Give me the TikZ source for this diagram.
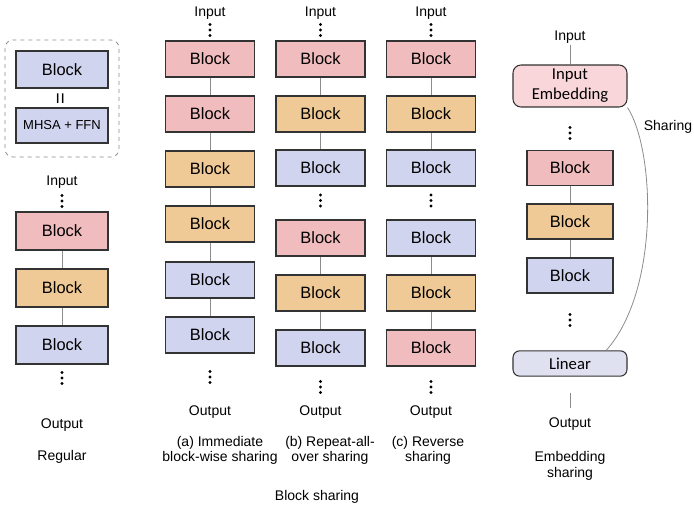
\documentclass[tikz,border=0pt]{standalone}
\usepackage{fontspec}
\setmainfont{Liberation Sans}
\newfontfamily\embfont{Carlito}
\usepackage{tikz}

\definecolor{blkpink}{RGB}{240,188,189}
\definecolor{blkorange}{RGB}{240,202,150}
\definecolor{blkblue}{RGB}{209,212,238}
\definecolor{embpink}{RGB}{248,214,217}
\definecolor{linblue}{RGB}{223,225,240}

\tikzset{
  blk/.style={draw=black!80, line width=0.8pt, inner sep=0pt, minimum width=66.75pt, minimum height=27pt, font=\fontsize{12.3}{14}\selectfont},
  pk/.style={blk, fill=blkpink},
  og/.style={blk, fill=blkorange},
  bl/.style={blk, fill=blkblue},
  wide/.style={minimum width=69pt, minimum height=28.5pt},
  slim/.style={minimum width=64.5pt, minimum height=26.25pt},
  lbl/.style={inner sep=0.75pt, font=\fontsize{10.5}{11.5}\selectfont, align=center},
  link/.style={draw=black!45, line width=0.75pt},
  dots/.pic={\fill (0,-5.5) circle (1.15pt) (0,0) circle (1.15pt) (0,5.5) circle (1.15pt);}
}

\begin{document}
\begin{tikzpicture}[x=0.75pt,y=0.75pt,yscale=-1,xscale=1]
\useasboundingbox (0,0) rectangle (694,506);

%Legend box
\draw [black!45, dashed, rounded corners=6pt, line width=0.6pt] (5,40) rectangle (119,157);
\node [bl, wide, minimum height=27.75pt] (lgblk) at (62,69.5) {Block};
\node [rotate=90, inner sep=0pt, font=\fontsize{15}{16}\selectfont] (lgeq) at (62,99) {=};
\node [bl, wide, minimum height=26.25pt, font=\fontsize{9.75}{12}\selectfont] (lgffn) at (62,125.5) {MHSA + FFN};

%Regular
\node [lbl] (rin) at (62,182) {Input};
\pic at (62,201) {dots};
\node [pk, wide] (r1) at (62,231) {Block};
\node [og, wide] (r2) at (62,288) {Block};
\node [bl, wide] (r3) at (62,345) {Block};
\pic at (62,378) {dots};
\node [lbl] (rout) at (62,425) {Output};
\node [lbl] (rcap) at (62,457) {Regular};
\draw [link] (r1) -- (r2);
\draw [link] (r2) -- (r3);

%(a) Immediate block-wise sharing
\node [lbl] (ain) at (210,13) {Input};
\pic at (210,30) {dots};
\node [pk] (a1) at (210,59) {Block};
\node [pk] (a2) at (210,114) {Block};
\node [og] (a3) at (210,169) {Block};
\node [og] (a4) at (210,224) {Block};
\node [bl] (a5) at (210,280) {Block};
\node [bl] (a6) at (210,335) {Block};
\pic at (210,377) {dots};
\node [lbl] (aout) at (210,412) {Output};
\node [lbl] (acap) at (220,450.5) {(a) Immediate\\block-wise sharing};
\draw [link] (a1) -- (a2);
\draw [link] (a2) -- (a3);
\draw [link] (a3) -- (a4);
\draw [link] (a4) -- (a5);
\draw [link] (a5) -- (a6);

%(b) Repeat-all-over sharing
\node [lbl] (bin) at (320.5,13) {Input};
\pic at (320.5,30) {dots};
\node [pk] (b1) at (320.5,59) {Block};
\node [og] (b2) at (320.5,114) {Block};
\node [bl] (b3) at (320.5,168) {Block};
\pic at (320.5,200.5) {dots};
\node [pk] (b4) at (320.5,238) {Block};
\node [og] (b5) at (320.5,293) {Block};
\node [bl] (b6) at (320.5,348) {Block};
\pic at (320.5,387) {dots};
\node [lbl] (bout) at (320.5,412) {Output};
\node [lbl] (bcap) at (330,450.5) {(b) Repeat-all-\\over sharing};
\draw [link] (b1) -- (b2);
\draw [link] (b2) -- (b3);
\draw [link] (b4) -- (b5);
\draw [link] (b5) -- (b6);

%(c) Reverse sharing
\node [lbl] (cin) at (431,13) {Input};
\pic at (431,30) {dots};
\node [pk] (c1) at (431,59) {Block};
\node [og] (c2) at (431,114) {Block};
\node [bl] (c3) at (431,168) {Block};
\pic at (431,200.5) {dots};
\node [bl] (c4) at (431,238) {Block};
\node [og] (c5) at (431,293) {Block};
\node [pk] (c6) at (431,348) {Block};
\pic at (431,387) {dots};
\node [lbl] (cout) at (431,412) {Output};
\node [lbl] (ccap) at (428,450.5) {(c) Reverse\\sharing};
\draw [link] (c1) -- (c2);
\draw [link] (c2) -- (c3);
\draw [link] (c4) -- (c5);
\draw [link] (c5) -- (c6);

% Text Node
\node [lbl] (bscap) at (317,497) {Block sharing};

%Embedding sharing
\node [lbl] (ein) at (570,37) {Input};
\node [draw=black!80, line width=0.8pt, fill=embpink, rounded corners=6pt, minimum width=85.5pt, minimum height=31.5pt, inner sep=0pt, align=center, font=\embfont\fontsize{12.5}{15}\selectfont] (emb) at (570,86) {Input\\Embedding};
\pic at (570,133) {dots};
\node [pk, slim] (e1) at (570,168) {Block};
\node [og, slim] (e2) at (570,221.5) {Block};
\node [bl, slim] (e3) at (570,275.5) {Block};
\pic at (570,320) {dots};
\node [draw=black!80, line width=0.8pt, fill=linblue, rounded corners=5pt, minimum width=85.5pt, minimum height=19pt, inner sep=0pt, font=\embfont\fontsize{12.5}{15}\selectfont] (lin) at (570,363.5) {Linear};
\node [lbl] (eout) at (570,424) {Output};
\node [lbl] (ecap) at (570,466) {Embedding\\sharing};
\node [lbl] (share) at (668,127) {Sharing};
\draw [link] (ein) -- (emb);
\draw [link] (e1) -- (e2);
\draw [link] (e2) -- (e3);
% gap left open below Linear
\draw [link] ([yshift=12pt]lin.south) -- ([yshift=-6pt]eout.north);
\draw [black!45, line width=0.6pt] (emb.south east) .. controls (655,150) and (660,290) .. (lin.20);

\end{tikzpicture}
\end{document}
